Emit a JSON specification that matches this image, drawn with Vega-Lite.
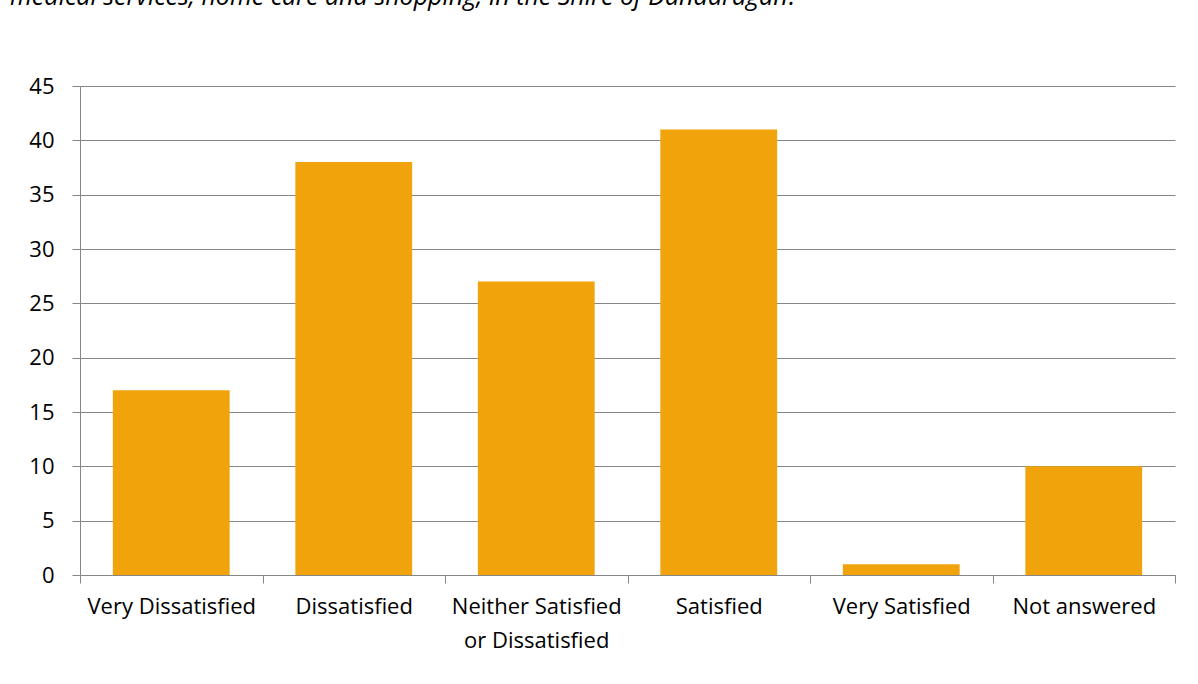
{
  "$schema": "https://vega.github.io/schema/vega-lite/v6.json",
  "width": 1095,
  "height": 489,
  "autosize": "none",
  "padding": {"left": 80, "top": 86, "right": 23, "bottom": 109},
  "background": "white",
  "title": {
    "text": "medical services, home care and shopping, in the Shire of Dandaragan?",
    "anchor": "start",
    "frame": "group",
    "font": "Open Sans",
    "fontStyle": "italic",
    "fontWeight": "normal",
    "fontSize": 25,
    "color": "#000000",
    "baseline": "bottom",
    "dx": -70,
    "dy": 26,
    "offset": 66
  },
  "data": {
    "values": [
      {"category": "Very Dissatisfied", "count": 17},
      {"category": "Dissatisfied", "count": 38},
      {"category": "Neither Satisfied or Dissatisfied", "count": 27},
      {"category": "Satisfied", "count": 41},
      {"category": "Very Satisfied", "count": 1},
      {"category": "Not answered", "count": 10}
    ]
  },
  "mark": {"type": "bar", "color": "#F0A30A", "width": {"band": 0.64}},
  "encoding": {
    "x": {
      "field": "category",
      "type": "nominal",
      "sort": null,
      "title": null,
      "scale": {"paddingInner": 0, "paddingOuter": 0},
      "axis": {
        "labelAngle": 0,
        "labelFont": "Open Sans",
        "labelFontSize": 22,
        "labelColor": "#000000",
        "labelPadding": 13,
        "labelLineHeight": 34,
        "labelLimit": 300,
        "labelExpr": "datum.value === 'Neither Satisfied or Dissatisfied' ? ['Neither Satisfied', 'or Dissatisfied'] : datum.label",
        "tickBand": "extent",
        "tickSize": 8,
        "tickColor": "#868686",
        "domainColor": "#868686",
        "grid": false
      }
    },
    "y": {
      "field": "count",
      "type": "quantitative",
      "title": null,
      "scale": {"domain": [0, 45], "nice": false},
      "axis": {
        "values": [0, 5, 10, 15, 20, 25, 30, 35, 40, 45],
        "labelFont": "Open Sans",
        "labelFontSize": 22,
        "labelColor": "#000000",
        "labelPadding": 18,
        "tickSize": 8,
        "tickColor": "#868686",
        "domainColor": "#868686",
        "gridColor": "#868686",
        "grid": true
      }
    }
  },
  "config": {
    "view": {"stroke": null}
  }
}
